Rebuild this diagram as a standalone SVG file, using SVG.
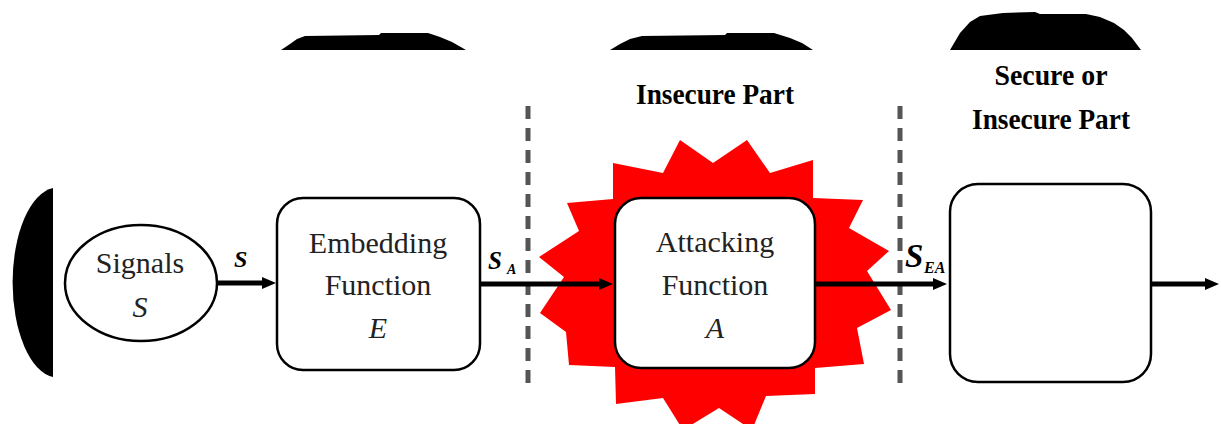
<svg xmlns="http://www.w3.org/2000/svg" width="1221" height="424" viewBox="0 0 1221 424">
<style>
.box{fill:#fff;stroke:#000;stroke-width:2.5}
.lbl{font-family:'Liberation Serif','DejaVu Serif','Times New Roman',serif;font-size:30px;fill:#222;text-anchor:middle}
.it{font-style:italic}
.part{font-family:'Liberation Serif','DejaVu Serif','Times New Roman',serif;font-weight:bold;font-size:29px;fill:#000;text-anchor:middle}
.sig{font-family:'Liberation Serif','DejaVu Serif','Times New Roman',serif;font-weight:bold;font-style:italic;fill:#000}
.conn{stroke:#000;stroke-width:5;fill:none;marker-end:url(#ah)}
.dash{stroke:#555;stroke-width:5;stroke-dasharray:13 9;fill:none}
.blk{fill:#000}
</style>
<defs>
<marker id="ah" viewBox="0 0 14 12" markerUnits="userSpaceOnUse" markerWidth="14" markerHeight="12" refX="4" refY="6" orient="auto">
<path d="M0,0 L14,6 L0,12 z" fill="#000"/>
</marker>
</defs>
<rect width="1221" height="424" fill="#fff"/>

<g id="decor">
<path class="blk" d="M53,188 A45,95 0 0 0 53,377 Z"/>
<path class="blk" d="M281,50 L290,44 L297,39 L305,36 L379,35 L381,33 L428,33 L440,37 L452,42 L466,50 Z"/>
<path class="blk" d="M610,50 L620,44 L630,39 L642,36 L725,35 L727,33 L774,33 L790,38 L802,43 L813,50 Z"/>
<path class="blk" d="M950,50 L960,33 L970,22 L980,16 L1003,13 L1035,12 L1040,14 L1086,14 L1100,17 L1114,23 L1124,30 L1132,38 L1141,50 Z"/>
</g>

<g id="boundaries">
<line class="dash" x1="528" y1="106" x2="528" y2="392"/>
<line class="dash" x1="900" y1="106" x2="900" y2="392"/>
</g>

<g id="part-labels">
<text class="part" x="715" y="104" textLength="158" lengthAdjust="spacingAndGlyphs">Insecure Part</text>
<text class="part" x="1051" y="85" textLength="113" lengthAdjust="spacingAndGlyphs">Secure or</text>
<text class="part" x="1051" y="129" textLength="158" lengthAdjust="spacingAndGlyphs">Insecure Part</text>
</g>

<g id="attack-burst">
<polygon fill="#f00" points="613,163 663,173 680,140 713,163 747,140 770,173 813,160 813,198 863,200 849,228 889,251 867,271 891,310 857,328 864,364 815,368 815,394 766,396 752,430 719,408 683,430 663,398 616,404 615,367 569,365 566,332 540,313 564,277 539,257 579,231 567,203 613,199"/>
</g>

<g id="connectors">
<line class="conn" x1="217" y1="283" x2="266" y2="283"/>
<line class="conn" x1="480" y1="284" x2="603" y2="284"/>
<line class="conn" x1="815" y1="284" x2="937" y2="284"/>
<line class="conn" x1="1151" y1="284" x2="1209" y2="284"/>
</g>

<g id="signals">
<ellipse class="box" cx="141" cy="283" rx="76" ry="58"/>
<text class="lbl" x="140" y="273">Signals</text>
<text class="lbl it" x="140" y="317">S</text>
</g>

<g id="embedding">
<rect class="box" x="277" y="198" width="203" height="172" rx="26"/>
<text class="lbl" x="378" y="253">Embedding</text>
<text class="lbl" x="378" y="295">Function</text>
<text class="lbl it" x="378" y="338">E</text>
</g>

<g id="attacking">
<rect class="box" x="615" y="198" width="200" height="170" rx="26"/>
<text class="lbl" x="715" y="252">Attacking</text>
<text class="lbl" x="715" y="295">Function</text>
<text class="lbl it" x="715" y="338">A</text>
</g>

<g id="output">
<rect class="box" x="950" y="184" width="201" height="198" rx="28"/>
</g>

<g id="signal-labels">
<text class="sig" x="234" y="267" font-size="24">S</text>
<text class="sig" x="488" y="269" font-size="25">S</text>
<text class="sig" x="507" y="274" font-size="14">A</text>
<text class="sig" x="905" y="267" font-size="33">S</text>
<text class="sig" x="924" y="273" font-size="16">EA</text>
</g>
</svg>
